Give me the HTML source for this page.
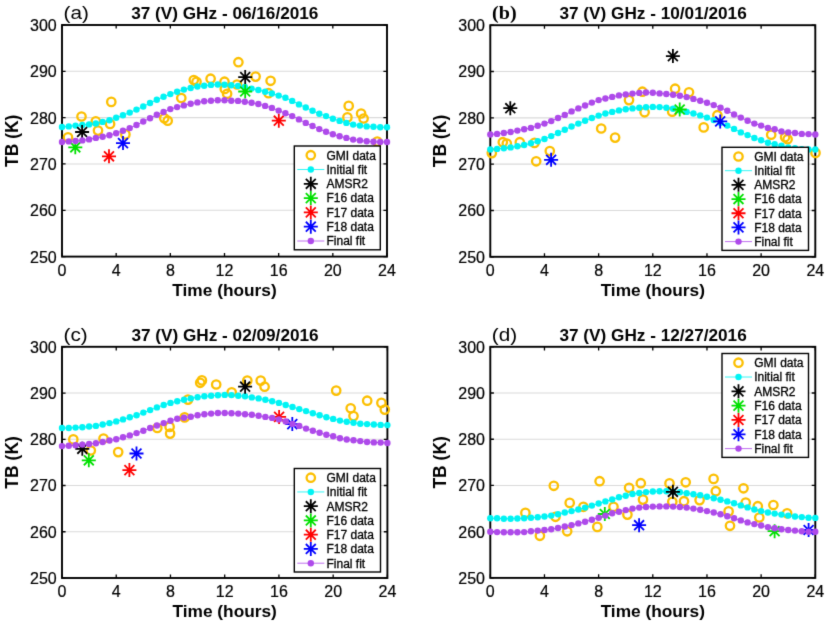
<!DOCTYPE html>
<html><head><meta charset="utf-8"><style>
html,body{margin:0;padding:0;background:#fff;width:827px;height:628px;overflow:hidden}
svg{display:block;will-change:transform}
text{-webkit-font-smoothing:antialiased}
text{font-family:"Liberation Sans", sans-serif;fill:#000}
.tl{font-size:16px;stroke:#000;stroke-width:0.2px}
.bl{font-size:17px;font-weight:bold}
.tt{font-size:17.2px}
.tm{font-size:17.3px}
.tb{font-size:17.5px}
.pl{font-size:18.5px}
.ps{font-family:"Liberation Serif", serif;font-size:19px;font-weight:bold}
.lg{font-size:12px;stroke:#000;stroke-width:0.3px}
</style></head><body>
<svg width="827" height="628" viewBox="0 0 827 628">
<defs><filter id="bl" x="0" y="0" width="827" height="628" filterUnits="userSpaceOnUse" color-interpolation-filters="sRGB"><feConvolveMatrix order="3" kernelMatrix="0.01134 0.08382 0.01134 0.08382 0.61935 0.08382 0.01134 0.08382 0.01134" edgeMode="duplicate"/></filter></defs>
<g filter="url(#bl)"><rect width="827" height="628" fill="#fff"/>
<line x1="62" y1="210.28" x2="387" y2="210.28" stroke="#DADADA" stroke-width="1.1"/>
<line x1="62" y1="163.96" x2="387" y2="163.96" stroke="#DADADA" stroke-width="1.1"/>
<line x1="62" y1="117.64" x2="387" y2="117.64" stroke="#DADADA" stroke-width="1.1"/>
<line x1="62" y1="71.32" x2="387" y2="71.32" stroke="#DADADA" stroke-width="1.1"/>
<path d="M62 256.6V253M62 25V28.6M116.17 256.6V253M116.17 25V28.6M170.33 256.6V253M170.33 25V28.6M224.5 256.6V253M224.5 25V28.6M278.67 256.6V253M278.67 25V28.6M332.83 256.6V253M332.83 25V28.6M387 256.6V253M387 25V28.6M62 256.6H65.6M387 256.6H383.4M62 210.28H65.6M387 210.28H383.4M62 163.96H65.6M387 163.96H383.4M62 117.64H65.6M387 117.64H383.4M62 71.32H65.6M387 71.32H383.4M62 25H65.6M387 25H383.4" stroke="#000" stroke-width="1.3" fill="none"/>
<rect x="62" y="25" width="325" height="231.6" fill="none" stroke="#000" stroke-width="1.9"/>
<circle cx="68" cy="137.4" r="4.2" fill="none" stroke="#FCBF00" stroke-width="2.3"/>
<circle cx="81.5" cy="116.5" r="4.2" fill="none" stroke="#FCBF00" stroke-width="2.3"/>
<circle cx="95.8" cy="121.3" r="4.2" fill="none" stroke="#FCBF00" stroke-width="2.3"/>
<circle cx="98" cy="130.6" r="4.2" fill="none" stroke="#FCBF00" stroke-width="2.3"/>
<circle cx="110.1" cy="124" r="4.2" fill="none" stroke="#FCBF00" stroke-width="2.3"/>
<circle cx="111.3" cy="101.9" r="4.2" fill="none" stroke="#FCBF00" stroke-width="2.3"/>
<circle cx="125.4" cy="134.4" r="4.2" fill="none" stroke="#FCBF00" stroke-width="2.3"/>
<circle cx="164.3" cy="118.3" r="4.2" fill="none" stroke="#FCBF00" stroke-width="2.3"/>
<circle cx="167.7" cy="120.7" r="4.2" fill="none" stroke="#FCBF00" stroke-width="2.3"/>
<circle cx="181.3" cy="98" r="4.2" fill="none" stroke="#FCBF00" stroke-width="2.3"/>
<circle cx="193.8" cy="80" r="4.2" fill="none" stroke="#FCBF00" stroke-width="2.3"/>
<circle cx="196.5" cy="81.8" r="4.2" fill="none" stroke="#FCBF00" stroke-width="2.3"/>
<circle cx="210.6" cy="78.7" r="4.2" fill="none" stroke="#FCBF00" stroke-width="2.3"/>
<circle cx="224.5" cy="81.7" r="4.2" fill="none" stroke="#FCBF00" stroke-width="2.3"/>
<circle cx="224.8" cy="89" r="4.2" fill="none" stroke="#FCBF00" stroke-width="2.3"/>
<circle cx="227.1" cy="93.8" r="4.2" fill="none" stroke="#FCBF00" stroke-width="2.3"/>
<circle cx="238.4" cy="62.2" r="4.2" fill="none" stroke="#FCBF00" stroke-width="2.3"/>
<circle cx="237" cy="84.5" r="4.2" fill="none" stroke="#FCBF00" stroke-width="2.3"/>
<circle cx="255.6" cy="76.6" r="4.2" fill="none" stroke="#FCBF00" stroke-width="2.3"/>
<circle cx="270.6" cy="80.8" r="4.2" fill="none" stroke="#FCBF00" stroke-width="2.3"/>
<circle cx="268.5" cy="93.2" r="4.2" fill="none" stroke="#FCBF00" stroke-width="2.3"/>
<circle cx="348.7" cy="105.9" r="4.2" fill="none" stroke="#FCBF00" stroke-width="2.3"/>
<circle cx="347.4" cy="117.4" r="4.2" fill="none" stroke="#FCBF00" stroke-width="2.3"/>
<circle cx="361.1" cy="113.5" r="4.2" fill="none" stroke="#FCBF00" stroke-width="2.3"/>
<circle cx="363.6" cy="118.5" r="4.2" fill="none" stroke="#FCBF00" stroke-width="2.3"/>
<circle cx="377.3" cy="141.6" r="4.2" fill="none" stroke="#FCBF00" stroke-width="2.3"/>
<polyline points="62,127 68.77,126.4 75.54,125.6 82.31,125 89.08,124.4 95.85,123.5 102.62,121.9 109.4,120.2 116.17,117.8 122.94,115.3 129.71,112.6 136.48,109.6 143.25,106.5 150.02,103 156.79,99.7 163.56,96.8 170.33,94.1 177.1,91.7 183.88,89.6 190.65,88 197.42,86.5 204.19,85.7 210.96,84.9 217.73,84.5 224.5,84.7 231.27,85.3 238.04,85.9 244.81,86.9 251.58,88.6 258.35,90 265.12,91.7 271.9,93.5 278.67,95.6 285.44,97.8 292.21,100.9 298.98,104.4 305.75,107.5 312.52,110.8 319.29,113.7 326.06,116.1 332.83,118.8 339.6,120.9 346.38,122.9 353.15,124.6 359.92,125.6 366.69,126.4 373.46,126.8 380.23,127.2 387,127.2" fill="none" stroke="#00F4F4" stroke-width="1"/>
<circle cx="62" cy="127" r="3.2" fill="#00F4F4"/>
<circle cx="68.77" cy="126.4" r="3.2" fill="#00F4F4"/>
<circle cx="75.54" cy="125.6" r="3.2" fill="#00F4F4"/>
<circle cx="82.31" cy="125" r="3.2" fill="#00F4F4"/>
<circle cx="89.08" cy="124.4" r="3.2" fill="#00F4F4"/>
<circle cx="95.85" cy="123.5" r="3.2" fill="#00F4F4"/>
<circle cx="102.62" cy="121.9" r="3.2" fill="#00F4F4"/>
<circle cx="109.4" cy="120.2" r="3.2" fill="#00F4F4"/>
<circle cx="116.17" cy="117.8" r="3.2" fill="#00F4F4"/>
<circle cx="122.94" cy="115.3" r="3.2" fill="#00F4F4"/>
<circle cx="129.71" cy="112.6" r="3.2" fill="#00F4F4"/>
<circle cx="136.48" cy="109.6" r="3.2" fill="#00F4F4"/>
<circle cx="143.25" cy="106.5" r="3.2" fill="#00F4F4"/>
<circle cx="150.02" cy="103" r="3.2" fill="#00F4F4"/>
<circle cx="156.79" cy="99.7" r="3.2" fill="#00F4F4"/>
<circle cx="163.56" cy="96.8" r="3.2" fill="#00F4F4"/>
<circle cx="170.33" cy="94.1" r="3.2" fill="#00F4F4"/>
<circle cx="177.1" cy="91.7" r="3.2" fill="#00F4F4"/>
<circle cx="183.88" cy="89.6" r="3.2" fill="#00F4F4"/>
<circle cx="190.65" cy="88" r="3.2" fill="#00F4F4"/>
<circle cx="197.42" cy="86.5" r="3.2" fill="#00F4F4"/>
<circle cx="204.19" cy="85.7" r="3.2" fill="#00F4F4"/>
<circle cx="210.96" cy="84.9" r="3.2" fill="#00F4F4"/>
<circle cx="217.73" cy="84.5" r="3.2" fill="#00F4F4"/>
<circle cx="224.5" cy="84.7" r="3.2" fill="#00F4F4"/>
<circle cx="231.27" cy="85.3" r="3.2" fill="#00F4F4"/>
<circle cx="238.04" cy="85.9" r="3.2" fill="#00F4F4"/>
<circle cx="244.81" cy="86.9" r="3.2" fill="#00F4F4"/>
<circle cx="251.58" cy="88.6" r="3.2" fill="#00F4F4"/>
<circle cx="258.35" cy="90" r="3.2" fill="#00F4F4"/>
<circle cx="265.12" cy="91.7" r="3.2" fill="#00F4F4"/>
<circle cx="271.9" cy="93.5" r="3.2" fill="#00F4F4"/>
<circle cx="278.67" cy="95.6" r="3.2" fill="#00F4F4"/>
<circle cx="285.44" cy="97.8" r="3.2" fill="#00F4F4"/>
<circle cx="292.21" cy="100.9" r="3.2" fill="#00F4F4"/>
<circle cx="298.98" cy="104.4" r="3.2" fill="#00F4F4"/>
<circle cx="305.75" cy="107.5" r="3.2" fill="#00F4F4"/>
<circle cx="312.52" cy="110.8" r="3.2" fill="#00F4F4"/>
<circle cx="319.29" cy="113.7" r="3.2" fill="#00F4F4"/>
<circle cx="326.06" cy="116.1" r="3.2" fill="#00F4F4"/>
<circle cx="332.83" cy="118.8" r="3.2" fill="#00F4F4"/>
<circle cx="339.6" cy="120.9" r="3.2" fill="#00F4F4"/>
<circle cx="346.38" cy="122.9" r="3.2" fill="#00F4F4"/>
<circle cx="353.15" cy="124.6" r="3.2" fill="#00F4F4"/>
<circle cx="359.92" cy="125.6" r="3.2" fill="#00F4F4"/>
<circle cx="366.69" cy="126.4" r="3.2" fill="#00F4F4"/>
<circle cx="373.46" cy="126.8" r="3.2" fill="#00F4F4"/>
<circle cx="380.23" cy="127.2" r="3.2" fill="#00F4F4"/>
<circle cx="387" cy="127.2" r="3.2" fill="#00F4F4"/>
<path d="M75.1 132H89.1M82.1 125V139M77.15 127.05L87.05 136.95M77.15 136.95L87.05 127.05" stroke="#000000" stroke-width="1.8" fill="none"/>
<path d="M238.2 77.1H252.2M245.2 70.1V84.1M240.25 72.15L250.15 82.05M240.25 82.05L250.15 72.15" stroke="#000000" stroke-width="1.8" fill="none"/>
<path d="M68.3 147.3H82.3M75.3 140.3V154.3M70.35 142.35L80.25 152.25M70.35 152.25L80.25 142.35" stroke="#00E000" stroke-width="1.8" fill="none"/>
<path d="M238.2 91.5H252.2M245.2 84.5V98.5M240.25 86.55L250.15 96.45M240.25 96.45L250.15 86.55" stroke="#00E000" stroke-width="1.8" fill="none"/>
<path d="M102 156.3H116M109 149.3V163.3M104.05 151.35L113.95 161.25M104.05 161.25L113.95 151.35" stroke="#FF0000" stroke-width="1.8" fill="none"/>
<path d="M271.8 120.7H285.8M278.8 113.7V127.7M273.85 115.75L283.75 125.65M273.85 125.65L283.75 115.75" stroke="#FF0000" stroke-width="1.8" fill="none"/>
<path d="M116 143.1H130M123 136.1V150.1M118.05 138.15L127.95 148.05M118.05 148.05L127.95 138.15" stroke="#0000FF" stroke-width="1.8" fill="none"/>
<polyline points="62,142 68.77,141.4 75.54,141 82.31,140.4 89.08,139.4 95.85,137.9 102.62,136.7 109.4,135.2 116.17,133.2 122.94,130.7 129.71,128.1 136.48,125 143.25,121.5 150.02,118.2 156.79,114.7 163.56,112 170.33,109.1 177.1,107.1 183.88,105.4 190.65,103.8 197.42,102.4 204.19,101.3 210.96,100.7 217.73,100.3 224.5,100.3 231.27,100.7 238.04,100.9 244.81,101.7 251.58,102.8 258.35,104 265.12,105.9 271.9,107.9 278.67,110.6 285.44,113.3 292.21,116.1 298.98,119.4 305.75,122.9 312.52,126 319.29,129.1 326.06,131.8 332.83,134.2 339.6,136.3 346.38,137.9 353.15,139.6 359.92,140.4 366.69,141.2 373.46,141.8 380.23,142 387,142" fill="none" stroke="#AE4AEA" stroke-width="1"/>
<circle cx="62" cy="142" r="3.2" fill="#AE4AEA"/>
<circle cx="68.77" cy="141.4" r="3.2" fill="#AE4AEA"/>
<circle cx="75.54" cy="141" r="3.2" fill="#AE4AEA"/>
<circle cx="82.31" cy="140.4" r="3.2" fill="#AE4AEA"/>
<circle cx="89.08" cy="139.4" r="3.2" fill="#AE4AEA"/>
<circle cx="95.85" cy="137.9" r="3.2" fill="#AE4AEA"/>
<circle cx="102.62" cy="136.7" r="3.2" fill="#AE4AEA"/>
<circle cx="109.4" cy="135.2" r="3.2" fill="#AE4AEA"/>
<circle cx="116.17" cy="133.2" r="3.2" fill="#AE4AEA"/>
<circle cx="122.94" cy="130.7" r="3.2" fill="#AE4AEA"/>
<circle cx="129.71" cy="128.1" r="3.2" fill="#AE4AEA"/>
<circle cx="136.48" cy="125" r="3.2" fill="#AE4AEA"/>
<circle cx="143.25" cy="121.5" r="3.2" fill="#AE4AEA"/>
<circle cx="150.02" cy="118.2" r="3.2" fill="#AE4AEA"/>
<circle cx="156.79" cy="114.7" r="3.2" fill="#AE4AEA"/>
<circle cx="163.56" cy="112" r="3.2" fill="#AE4AEA"/>
<circle cx="170.33" cy="109.1" r="3.2" fill="#AE4AEA"/>
<circle cx="177.1" cy="107.1" r="3.2" fill="#AE4AEA"/>
<circle cx="183.88" cy="105.4" r="3.2" fill="#AE4AEA"/>
<circle cx="190.65" cy="103.8" r="3.2" fill="#AE4AEA"/>
<circle cx="197.42" cy="102.4" r="3.2" fill="#AE4AEA"/>
<circle cx="204.19" cy="101.3" r="3.2" fill="#AE4AEA"/>
<circle cx="210.96" cy="100.7" r="3.2" fill="#AE4AEA"/>
<circle cx="217.73" cy="100.3" r="3.2" fill="#AE4AEA"/>
<circle cx="224.5" cy="100.3" r="3.2" fill="#AE4AEA"/>
<circle cx="231.27" cy="100.7" r="3.2" fill="#AE4AEA"/>
<circle cx="238.04" cy="100.9" r="3.2" fill="#AE4AEA"/>
<circle cx="244.81" cy="101.7" r="3.2" fill="#AE4AEA"/>
<circle cx="251.58" cy="102.8" r="3.2" fill="#AE4AEA"/>
<circle cx="258.35" cy="104" r="3.2" fill="#AE4AEA"/>
<circle cx="265.12" cy="105.9" r="3.2" fill="#AE4AEA"/>
<circle cx="271.9" cy="107.9" r="3.2" fill="#AE4AEA"/>
<circle cx="278.67" cy="110.6" r="3.2" fill="#AE4AEA"/>
<circle cx="285.44" cy="113.3" r="3.2" fill="#AE4AEA"/>
<circle cx="292.21" cy="116.1" r="3.2" fill="#AE4AEA"/>
<circle cx="298.98" cy="119.4" r="3.2" fill="#AE4AEA"/>
<circle cx="305.75" cy="122.9" r="3.2" fill="#AE4AEA"/>
<circle cx="312.52" cy="126" r="3.2" fill="#AE4AEA"/>
<circle cx="319.29" cy="129.1" r="3.2" fill="#AE4AEA"/>
<circle cx="326.06" cy="131.8" r="3.2" fill="#AE4AEA"/>
<circle cx="332.83" cy="134.2" r="3.2" fill="#AE4AEA"/>
<circle cx="339.6" cy="136.3" r="3.2" fill="#AE4AEA"/>
<circle cx="346.38" cy="137.9" r="3.2" fill="#AE4AEA"/>
<circle cx="353.15" cy="139.6" r="3.2" fill="#AE4AEA"/>
<circle cx="359.92" cy="140.4" r="3.2" fill="#AE4AEA"/>
<circle cx="366.69" cy="141.2" r="3.2" fill="#AE4AEA"/>
<circle cx="373.46" cy="141.8" r="3.2" fill="#AE4AEA"/>
<circle cx="380.23" cy="142" r="3.2" fill="#AE4AEA"/>
<circle cx="387" cy="142" r="3.2" fill="#AE4AEA"/>
<text x="62" y="275.6" text-anchor="middle" class="tl">0</text>
<text x="116.17" y="275.6" text-anchor="middle" class="tl">4</text>
<text x="170.33" y="275.6" text-anchor="middle" class="tl">8</text>
<text x="224.5" y="275.6" text-anchor="middle" class="tl">12</text>
<text x="278.67" y="275.6" text-anchor="middle" class="tl">16</text>
<text x="332.83" y="275.6" text-anchor="middle" class="tl">20</text>
<text x="387" y="275.6" text-anchor="middle" class="tl">24</text>
<text x="56.7" y="262.5" text-anchor="end" class="tl">250</text>
<text x="56.7" y="216.18" text-anchor="end" class="tl">260</text>
<text x="56.7" y="169.86" text-anchor="end" class="tl">270</text>
<text x="56.7" y="123.54" text-anchor="end" class="tl">280</text>
<text x="56.7" y="77.22" text-anchor="end" class="tl">290</text>
<text x="56.7" y="30.9" text-anchor="end" class="tl">300</text>
<text x="224.5" y="295.5" text-anchor="middle" class="bl tm">Time (hours)</text>
<text transform="translate(18 140.8) rotate(-90)" text-anchor="middle" class="bl tb">TB (K)</text>
<text x="224.8" y="18.7" text-anchor="middle" class="bl tt">37 (V) GHz - 06/16/2016</text>
<text transform="translate(63.5 19) scale(1.12 1)" class="pl">(a)</text>
<rect x="294.3" y="146" width="86" height="103.8" fill="#fff" stroke="#000" stroke-width="1.4"/>
<circle cx="310.8" cy="155.2" r="4.2" fill="none" stroke="#FCBF00" stroke-width="2.3"/>
<text x="326.5" y="159.5" class="lg">GMI data</text>
<line x1="297.3" y1="169.5" x2="324.3" y2="169.5" stroke="#00F4F4" stroke-width="0.8"/>
<circle cx="310.8" cy="169.5" r="3.2" fill="#00F4F4"/>
<text x="326.5" y="173.8" class="lg">Initial fit</text>
<path d="M303.8 183.8H317.8M310.8 176.8V190.8M305.85 178.85L315.75 188.75M305.85 188.75L315.75 178.85" stroke="#000000" stroke-width="1.8" fill="none"/>
<text x="326.5" y="188.1" class="lg">AMSR2</text>
<path d="M303.8 198.1H317.8M310.8 191.1V205.1M305.85 193.15L315.75 203.05M305.85 203.05L315.75 193.15" stroke="#00E000" stroke-width="1.8" fill="none"/>
<text x="326.5" y="202.4" class="lg">F16 data</text>
<path d="M303.8 212.4H317.8M310.8 205.4V219.4M305.85 207.45L315.75 217.35M305.85 217.35L315.75 207.45" stroke="#FF0000" stroke-width="1.8" fill="none"/>
<text x="326.5" y="216.7" class="lg">F17 data</text>
<path d="M303.8 226.7H317.8M310.8 219.7V233.7M305.85 221.75L315.75 231.65M305.85 231.65L315.75 221.75" stroke="#0000FF" stroke-width="1.8" fill="none"/>
<text x="326.5" y="231" class="lg">F18 data</text>
<line x1="297.3" y1="241" x2="324.3" y2="241" stroke="#AE4AEA" stroke-width="0.8"/>
<circle cx="310.8" cy="241" r="3.2" fill="#AE4AEA"/>
<text x="326.5" y="245.3" class="lg">Final fit</text>
<line x1="490.3" y1="210.48" x2="815.3" y2="210.48" stroke="#DADADA" stroke-width="1.1"/>
<line x1="490.3" y1="164.16" x2="815.3" y2="164.16" stroke="#DADADA" stroke-width="1.1"/>
<line x1="490.3" y1="117.84" x2="815.3" y2="117.84" stroke="#DADADA" stroke-width="1.1"/>
<line x1="490.3" y1="71.52" x2="815.3" y2="71.52" stroke="#DADADA" stroke-width="1.1"/>
<path d="M490.3 256.8V253.2M490.3 25.2V28.8M544.47 256.8V253.2M544.47 25.2V28.8M598.63 256.8V253.2M598.63 25.2V28.8M652.8 256.8V253.2M652.8 25.2V28.8M706.97 256.8V253.2M706.97 25.2V28.8M761.13 256.8V253.2M761.13 25.2V28.8M815.3 256.8V253.2M815.3 25.2V28.8M490.3 256.8H493.9M815.3 256.8H811.7M490.3 210.48H493.9M815.3 210.48H811.7M490.3 164.16H493.9M815.3 164.16H811.7M490.3 117.84H493.9M815.3 117.84H811.7M490.3 71.52H493.9M815.3 71.52H811.7M490.3 25.2H493.9M815.3 25.2H811.7" stroke="#000" stroke-width="1.3" fill="none"/>
<rect x="490.3" y="25.2" width="325" height="231.6" fill="none" stroke="#000" stroke-width="1.9"/>
<circle cx="491.8" cy="153.1" r="4.2" fill="none" stroke="#FCBF00" stroke-width="2.3"/>
<circle cx="502.8" cy="142.2" r="4.2" fill="none" stroke="#FCBF00" stroke-width="2.3"/>
<circle cx="506.8" cy="143.6" r="4.2" fill="none" stroke="#FCBF00" stroke-width="2.3"/>
<circle cx="519.8" cy="142.2" r="4.2" fill="none" stroke="#FCBF00" stroke-width="2.3"/>
<circle cx="534.5" cy="142.9" r="4.2" fill="none" stroke="#FCBF00" stroke-width="2.3"/>
<circle cx="536.2" cy="161.3" r="4.2" fill="none" stroke="#FCBF00" stroke-width="2.3"/>
<circle cx="549.8" cy="151.1" r="4.2" fill="none" stroke="#FCBF00" stroke-width="2.3"/>
<circle cx="601.2" cy="128.5" r="4.2" fill="none" stroke="#FCBF00" stroke-width="2.3"/>
<circle cx="615.1" cy="137.6" r="4.2" fill="none" stroke="#FCBF00" stroke-width="2.3"/>
<circle cx="629" cy="100.1" r="4.2" fill="none" stroke="#FCBF00" stroke-width="2.3"/>
<circle cx="642.4" cy="91.7" r="4.2" fill="none" stroke="#FCBF00" stroke-width="2.3"/>
<circle cx="644.6" cy="112.3" r="4.2" fill="none" stroke="#FCBF00" stroke-width="2.3"/>
<circle cx="675.1" cy="88.7" r="4.2" fill="none" stroke="#FCBF00" stroke-width="2.3"/>
<circle cx="689" cy="92.3" r="4.2" fill="none" stroke="#FCBF00" stroke-width="2.3"/>
<circle cx="672.2" cy="111.7" r="4.2" fill="none" stroke="#FCBF00" stroke-width="2.3"/>
<circle cx="717.4" cy="115.2" r="4.2" fill="none" stroke="#FCBF00" stroke-width="2.3"/>
<circle cx="703.7" cy="127.4" r="4.2" fill="none" stroke="#FCBF00" stroke-width="2.3"/>
<circle cx="771.2" cy="134.7" r="4.2" fill="none" stroke="#FCBF00" stroke-width="2.3"/>
<circle cx="785.1" cy="137.2" r="4.2" fill="none" stroke="#FCBF00" stroke-width="2.3"/>
<circle cx="787.6" cy="139.2" r="4.2" fill="none" stroke="#FCBF00" stroke-width="2.3"/>
<circle cx="815.5" cy="152.9" r="4.2" fill="none" stroke="#FCBF00" stroke-width="2.3"/>
<polyline points="490.3,149.5 497.07,148.9 503.84,148.2 510.61,147.4 517.38,146.2 524.15,145 530.92,143.3 537.7,141.3 544.47,139 551.24,136.1 558.01,133 564.78,129.7 571.55,126.5 578.32,123.6 585.09,120.7 591.86,118 598.63,115.6 605.4,113.5 612.17,111.9 618.95,110.4 625.72,109.2 632.49,108.4 639.26,107.7 646.03,107.2 652.8,106.9 659.57,107.1 666.34,107.7 673.11,108.8 679.88,110.4 686.65,111.9 693.42,113.5 700.2,115.4 706.97,117.6 713.74,120.1 720.51,122.8 727.28,125.6 734.05,128.9 740.82,132.4 747.59,135.1 754.36,138 761.13,140.2 767.9,142.7 774.67,144.3 781.45,145.8 788.22,147.4 794.99,148.2 801.76,149.1 808.53,149.5 815.3,149.5" fill="none" stroke="#00F4F4" stroke-width="1"/>
<circle cx="490.3" cy="149.5" r="3.2" fill="#00F4F4"/>
<circle cx="497.07" cy="148.9" r="3.2" fill="#00F4F4"/>
<circle cx="503.84" cy="148.2" r="3.2" fill="#00F4F4"/>
<circle cx="510.61" cy="147.4" r="3.2" fill="#00F4F4"/>
<circle cx="517.38" cy="146.2" r="3.2" fill="#00F4F4"/>
<circle cx="524.15" cy="145" r="3.2" fill="#00F4F4"/>
<circle cx="530.92" cy="143.3" r="3.2" fill="#00F4F4"/>
<circle cx="537.7" cy="141.3" r="3.2" fill="#00F4F4"/>
<circle cx="544.47" cy="139" r="3.2" fill="#00F4F4"/>
<circle cx="551.24" cy="136.1" r="3.2" fill="#00F4F4"/>
<circle cx="558.01" cy="133" r="3.2" fill="#00F4F4"/>
<circle cx="564.78" cy="129.7" r="3.2" fill="#00F4F4"/>
<circle cx="571.55" cy="126.5" r="3.2" fill="#00F4F4"/>
<circle cx="578.32" cy="123.6" r="3.2" fill="#00F4F4"/>
<circle cx="585.09" cy="120.7" r="3.2" fill="#00F4F4"/>
<circle cx="591.86" cy="118" r="3.2" fill="#00F4F4"/>
<circle cx="598.63" cy="115.6" r="3.2" fill="#00F4F4"/>
<circle cx="605.4" cy="113.5" r="3.2" fill="#00F4F4"/>
<circle cx="612.17" cy="111.9" r="3.2" fill="#00F4F4"/>
<circle cx="618.95" cy="110.4" r="3.2" fill="#00F4F4"/>
<circle cx="625.72" cy="109.2" r="3.2" fill="#00F4F4"/>
<circle cx="632.49" cy="108.4" r="3.2" fill="#00F4F4"/>
<circle cx="639.26" cy="107.7" r="3.2" fill="#00F4F4"/>
<circle cx="646.03" cy="107.2" r="3.2" fill="#00F4F4"/>
<circle cx="652.8" cy="106.9" r="3.2" fill="#00F4F4"/>
<circle cx="659.57" cy="107.1" r="3.2" fill="#00F4F4"/>
<circle cx="666.34" cy="107.7" r="3.2" fill="#00F4F4"/>
<circle cx="673.11" cy="108.8" r="3.2" fill="#00F4F4"/>
<circle cx="679.88" cy="110.4" r="3.2" fill="#00F4F4"/>
<circle cx="686.65" cy="111.9" r="3.2" fill="#00F4F4"/>
<circle cx="693.42" cy="113.5" r="3.2" fill="#00F4F4"/>
<circle cx="700.2" cy="115.4" r="3.2" fill="#00F4F4"/>
<circle cx="706.97" cy="117.6" r="3.2" fill="#00F4F4"/>
<circle cx="713.74" cy="120.1" r="3.2" fill="#00F4F4"/>
<circle cx="720.51" cy="122.8" r="3.2" fill="#00F4F4"/>
<circle cx="727.28" cy="125.6" r="3.2" fill="#00F4F4"/>
<circle cx="734.05" cy="128.9" r="3.2" fill="#00F4F4"/>
<circle cx="740.82" cy="132.4" r="3.2" fill="#00F4F4"/>
<circle cx="747.59" cy="135.1" r="3.2" fill="#00F4F4"/>
<circle cx="754.36" cy="138" r="3.2" fill="#00F4F4"/>
<circle cx="761.13" cy="140.2" r="3.2" fill="#00F4F4"/>
<circle cx="767.9" cy="142.7" r="3.2" fill="#00F4F4"/>
<circle cx="774.67" cy="144.3" r="3.2" fill="#00F4F4"/>
<circle cx="781.45" cy="145.8" r="3.2" fill="#00F4F4"/>
<circle cx="788.22" cy="147.4" r="3.2" fill="#00F4F4"/>
<circle cx="794.99" cy="148.2" r="3.2" fill="#00F4F4"/>
<circle cx="801.76" cy="149.1" r="3.2" fill="#00F4F4"/>
<circle cx="808.53" cy="149.5" r="3.2" fill="#00F4F4"/>
<circle cx="815.3" cy="149.5" r="3.2" fill="#00F4F4"/>
<path d="M503.3 108.2H517.3M510.3 101.2V115.2M505.35 103.25L515.25 113.15M505.35 113.15L515.25 103.25" stroke="#000000" stroke-width="1.8" fill="none"/>
<path d="M665.9 56.1H679.9M672.9 49.1V63.1M667.95 51.15L677.85 61.05M667.95 61.05L677.85 51.15" stroke="#000000" stroke-width="1.8" fill="none"/>
<path d="M672.7 109.5H686.7M679.7 102.5V116.5M674.75 104.55L684.65 114.45M674.75 114.45L684.65 104.55" stroke="#00E000" stroke-width="1.8" fill="none"/>
<path d="M544.1 159.8H558.1M551.1 152.8V166.8M546.15 154.85L556.05 164.75M546.15 164.75L556.05 154.85" stroke="#0000FF" stroke-width="1.8" fill="none"/>
<path d="M713.2 121.4H727.2M720.2 114.4V128.4M715.25 116.45L725.15 126.35M715.25 126.35L725.15 116.45" stroke="#0000FF" stroke-width="1.8" fill="none"/>
<polyline points="490.3,134.5 497.07,133.9 503.84,133 510.61,132 517.38,130.6 524.15,129.3 530.92,127.9 537.7,125.8 544.47,123.6 551.24,121.1 558.01,118 564.78,114.9 571.55,111.4 578.32,108.4 585.09,105.5 591.86,102.6 598.63,100.1 605.4,98.5 612.17,96.9 618.95,95.4 625.72,94.4 632.49,93.6 639.26,92.9 646.03,92.5 652.8,92.7 659.57,93.4 666.34,94 673.11,94.8 679.88,95.8 686.65,97.1 693.42,98.9 700.2,100.8 706.97,102.8 713.74,105.1 720.51,107.7 727.28,110.8 734.05,114.5 740.82,117.6 747.59,120.7 754.36,123.6 761.13,125.6 767.9,127.9 774.67,129.3 781.45,131.4 788.22,132.4 794.99,133 801.76,133.9 808.53,134.1 815.3,134.5" fill="none" stroke="#AE4AEA" stroke-width="1"/>
<circle cx="490.3" cy="134.5" r="3.2" fill="#AE4AEA"/>
<circle cx="497.07" cy="133.9" r="3.2" fill="#AE4AEA"/>
<circle cx="503.84" cy="133" r="3.2" fill="#AE4AEA"/>
<circle cx="510.61" cy="132" r="3.2" fill="#AE4AEA"/>
<circle cx="517.38" cy="130.6" r="3.2" fill="#AE4AEA"/>
<circle cx="524.15" cy="129.3" r="3.2" fill="#AE4AEA"/>
<circle cx="530.92" cy="127.9" r="3.2" fill="#AE4AEA"/>
<circle cx="537.7" cy="125.8" r="3.2" fill="#AE4AEA"/>
<circle cx="544.47" cy="123.6" r="3.2" fill="#AE4AEA"/>
<circle cx="551.24" cy="121.1" r="3.2" fill="#AE4AEA"/>
<circle cx="558.01" cy="118" r="3.2" fill="#AE4AEA"/>
<circle cx="564.78" cy="114.9" r="3.2" fill="#AE4AEA"/>
<circle cx="571.55" cy="111.4" r="3.2" fill="#AE4AEA"/>
<circle cx="578.32" cy="108.4" r="3.2" fill="#AE4AEA"/>
<circle cx="585.09" cy="105.5" r="3.2" fill="#AE4AEA"/>
<circle cx="591.86" cy="102.6" r="3.2" fill="#AE4AEA"/>
<circle cx="598.63" cy="100.1" r="3.2" fill="#AE4AEA"/>
<circle cx="605.4" cy="98.5" r="3.2" fill="#AE4AEA"/>
<circle cx="612.17" cy="96.9" r="3.2" fill="#AE4AEA"/>
<circle cx="618.95" cy="95.4" r="3.2" fill="#AE4AEA"/>
<circle cx="625.72" cy="94.4" r="3.2" fill="#AE4AEA"/>
<circle cx="632.49" cy="93.6" r="3.2" fill="#AE4AEA"/>
<circle cx="639.26" cy="92.9" r="3.2" fill="#AE4AEA"/>
<circle cx="646.03" cy="92.5" r="3.2" fill="#AE4AEA"/>
<circle cx="652.8" cy="92.7" r="3.2" fill="#AE4AEA"/>
<circle cx="659.57" cy="93.4" r="3.2" fill="#AE4AEA"/>
<circle cx="666.34" cy="94" r="3.2" fill="#AE4AEA"/>
<circle cx="673.11" cy="94.8" r="3.2" fill="#AE4AEA"/>
<circle cx="679.88" cy="95.8" r="3.2" fill="#AE4AEA"/>
<circle cx="686.65" cy="97.1" r="3.2" fill="#AE4AEA"/>
<circle cx="693.42" cy="98.9" r="3.2" fill="#AE4AEA"/>
<circle cx="700.2" cy="100.8" r="3.2" fill="#AE4AEA"/>
<circle cx="706.97" cy="102.8" r="3.2" fill="#AE4AEA"/>
<circle cx="713.74" cy="105.1" r="3.2" fill="#AE4AEA"/>
<circle cx="720.51" cy="107.7" r="3.2" fill="#AE4AEA"/>
<circle cx="727.28" cy="110.8" r="3.2" fill="#AE4AEA"/>
<circle cx="734.05" cy="114.5" r="3.2" fill="#AE4AEA"/>
<circle cx="740.82" cy="117.6" r="3.2" fill="#AE4AEA"/>
<circle cx="747.59" cy="120.7" r="3.2" fill="#AE4AEA"/>
<circle cx="754.36" cy="123.6" r="3.2" fill="#AE4AEA"/>
<circle cx="761.13" cy="125.6" r="3.2" fill="#AE4AEA"/>
<circle cx="767.9" cy="127.9" r="3.2" fill="#AE4AEA"/>
<circle cx="774.67" cy="129.3" r="3.2" fill="#AE4AEA"/>
<circle cx="781.45" cy="131.4" r="3.2" fill="#AE4AEA"/>
<circle cx="788.22" cy="132.4" r="3.2" fill="#AE4AEA"/>
<circle cx="794.99" cy="133" r="3.2" fill="#AE4AEA"/>
<circle cx="801.76" cy="133.9" r="3.2" fill="#AE4AEA"/>
<circle cx="808.53" cy="134.1" r="3.2" fill="#AE4AEA"/>
<circle cx="815.3" cy="134.5" r="3.2" fill="#AE4AEA"/>
<text x="490.3" y="275.8" text-anchor="middle" class="tl">0</text>
<text x="544.47" y="275.8" text-anchor="middle" class="tl">4</text>
<text x="598.63" y="275.8" text-anchor="middle" class="tl">8</text>
<text x="652.8" y="275.8" text-anchor="middle" class="tl">12</text>
<text x="706.97" y="275.8" text-anchor="middle" class="tl">16</text>
<text x="761.13" y="275.8" text-anchor="middle" class="tl">20</text>
<text x="815.3" y="275.8" text-anchor="middle" class="tl">24</text>
<text x="485" y="262.7" text-anchor="end" class="tl">250</text>
<text x="485" y="216.38" text-anchor="end" class="tl">260</text>
<text x="485" y="170.06" text-anchor="end" class="tl">270</text>
<text x="485" y="123.74" text-anchor="end" class="tl">280</text>
<text x="485" y="77.42" text-anchor="end" class="tl">290</text>
<text x="485" y="31.1" text-anchor="end" class="tl">300</text>
<text x="652.8" y="295.7" text-anchor="middle" class="bl tm">Time (hours)</text>
<text transform="translate(446.3 141) rotate(-90)" text-anchor="middle" class="bl tb">TB (K)</text>
<text x="653.1" y="18.9" text-anchor="middle" class="bl tt">37 (V) GHz - 10/01/2016</text>
<text transform="translate(492 19.2) scale(1.06 1)" class="ps">(b)</text>
<rect x="722" y="147.3" width="86.5" height="103.1" fill="#fff" stroke="#000" stroke-width="1.4"/>
<circle cx="738.5" cy="156.5" r="4.2" fill="none" stroke="#FCBF00" stroke-width="2.3"/>
<text x="754.2" y="160.8" class="lg">GMI data</text>
<line x1="725" y1="170.68" x2="752" y2="170.68" stroke="#00F4F4" stroke-width="0.8"/>
<circle cx="738.5" cy="170.68" r="3.2" fill="#00F4F4"/>
<text x="754.2" y="174.98" class="lg">Initial fit</text>
<path d="M731.5 184.87H745.5M738.5 177.87V191.87M733.55 179.92L743.45 189.82M733.55 189.82L743.45 179.92" stroke="#000000" stroke-width="1.8" fill="none"/>
<text x="754.2" y="189.17" class="lg">AMSR2</text>
<path d="M731.5 199.05H745.5M738.5 192.05V206.05M733.55 194.1L743.45 204M733.55 204L743.45 194.1" stroke="#00E000" stroke-width="1.8" fill="none"/>
<text x="754.2" y="203.35" class="lg">F16 data</text>
<path d="M731.5 213.23H745.5M738.5 206.23V220.23M733.55 208.28L743.45 218.18M733.55 218.18L743.45 208.28" stroke="#FF0000" stroke-width="1.8" fill="none"/>
<text x="754.2" y="217.53" class="lg">F17 data</text>
<path d="M731.5 227.42H745.5M738.5 220.42V234.42M733.55 222.47L743.45 232.37M733.55 232.37L743.45 222.47" stroke="#0000FF" stroke-width="1.8" fill="none"/>
<text x="754.2" y="231.72" class="lg">F18 data</text>
<line x1="725" y1="241.6" x2="752" y2="241.6" stroke="#AE4AEA" stroke-width="0.8"/>
<circle cx="738.5" cy="241.6" r="3.2" fill="#AE4AEA"/>
<text x="754.2" y="245.9" class="lg">Final fit</text>
<line x1="62" y1="531.76" x2="387.4" y2="531.76" stroke="#DADADA" stroke-width="1.1"/>
<line x1="62" y1="485.52" x2="387.4" y2="485.52" stroke="#DADADA" stroke-width="1.1"/>
<line x1="62" y1="439.28" x2="387.4" y2="439.28" stroke="#DADADA" stroke-width="1.1"/>
<line x1="62" y1="393.04" x2="387.4" y2="393.04" stroke="#DADADA" stroke-width="1.1"/>
<path d="M62 578V574.4M62 346.8V350.4M116.23 578V574.4M116.23 346.8V350.4M170.47 578V574.4M170.47 346.8V350.4M224.7 578V574.4M224.7 346.8V350.4M278.93 578V574.4M278.93 346.8V350.4M333.17 578V574.4M333.17 346.8V350.4M387.4 578V574.4M387.4 346.8V350.4M62 578H65.6M387.4 578H383.8M62 531.76H65.6M387.4 531.76H383.8M62 485.52H65.6M387.4 485.52H383.8M62 439.28H65.6M387.4 439.28H383.8M62 393.04H65.6M387.4 393.04H383.8M62 346.8H65.6M387.4 346.8H383.8" stroke="#000" stroke-width="1.3" fill="none"/>
<rect x="62" y="346.8" width="325.4" height="231.2" fill="none" stroke="#000" stroke-width="1.9"/>
<circle cx="73.3" cy="439.4" r="4.2" fill="none" stroke="#FCBF00" stroke-width="2.3"/>
<circle cx="103.5" cy="438.5" r="4.2" fill="none" stroke="#FCBF00" stroke-width="2.3"/>
<circle cx="90.8" cy="450.5" r="4.2" fill="none" stroke="#FCBF00" stroke-width="2.3"/>
<circle cx="118.2" cy="452.1" r="4.2" fill="none" stroke="#FCBF00" stroke-width="2.3"/>
<circle cx="200.2" cy="382.8" r="4.2" fill="none" stroke="#FCBF00" stroke-width="2.3"/>
<circle cx="201.9" cy="380.4" r="4.2" fill="none" stroke="#FCBF00" stroke-width="2.3"/>
<circle cx="216.2" cy="384.5" r="4.2" fill="none" stroke="#FCBF00" stroke-width="2.3"/>
<circle cx="188" cy="399.6" r="4.2" fill="none" stroke="#FCBF00" stroke-width="2.3"/>
<circle cx="184.6" cy="417.4" r="4.2" fill="none" stroke="#FCBF00" stroke-width="2.3"/>
<circle cx="157.3" cy="428" r="4.2" fill="none" stroke="#FCBF00" stroke-width="2.3"/>
<circle cx="169.6" cy="426.9" r="4.2" fill="none" stroke="#FCBF00" stroke-width="2.3"/>
<circle cx="170.1" cy="433.6" r="4.2" fill="none" stroke="#FCBF00" stroke-width="2.3"/>
<circle cx="231.7" cy="392.3" r="4.2" fill="none" stroke="#FCBF00" stroke-width="2.3"/>
<circle cx="247.3" cy="380.6" r="4.2" fill="none" stroke="#FCBF00" stroke-width="2.3"/>
<circle cx="260.7" cy="380.6" r="4.2" fill="none" stroke="#FCBF00" stroke-width="2.3"/>
<circle cx="264.6" cy="386.7" r="4.2" fill="none" stroke="#FCBF00" stroke-width="2.3"/>
<circle cx="336.2" cy="390.6" r="4.2" fill="none" stroke="#FCBF00" stroke-width="2.3"/>
<circle cx="350.7" cy="408.3" r="4.2" fill="none" stroke="#FCBF00" stroke-width="2.3"/>
<circle cx="353.5" cy="416.1" r="4.2" fill="none" stroke="#FCBF00" stroke-width="2.3"/>
<circle cx="367.2" cy="400.7" r="4.2" fill="none" stroke="#FCBF00" stroke-width="2.3"/>
<circle cx="381.4" cy="402.9" r="4.2" fill="none" stroke="#FCBF00" stroke-width="2.3"/>
<circle cx="384.8" cy="409.6" r="4.2" fill="none" stroke="#FCBF00" stroke-width="2.3"/>
<polyline points="62,428 68.78,428 75.56,427.6 82.34,427.2 89.12,426.5 95.9,425.9 102.67,424.5 109.45,423.1 116.23,421.4 123.01,419.4 129.79,417.3 136.57,415.2 143.35,412.6 150.13,410.1 156.91,407.4 163.69,405 170.47,402.9 177.25,401.3 184.02,399.8 190.8,398.4 197.58,397.2 204.36,396.3 211.14,395.7 217.92,395.2 224.7,394.9 231.48,395.1 238.26,395.7 245.04,396.3 251.82,397.4 258.6,398.4 265.38,399.8 272.15,401.3 278.93,402.9 285.71,405 292.49,407 299.27,409.1 306.05,411.1 312.83,413.2 319.61,415.2 326.39,417.3 333.17,418.9 339.95,420.6 346.72,421.8 353.5,422.8 360.28,423.7 367.06,424.1 373.84,424.5 380.62,424.9 387.4,425.1" fill="none" stroke="#00F4F4" stroke-width="1"/>
<circle cx="62" cy="428" r="3.2" fill="#00F4F4"/>
<circle cx="68.78" cy="428" r="3.2" fill="#00F4F4"/>
<circle cx="75.56" cy="427.6" r="3.2" fill="#00F4F4"/>
<circle cx="82.34" cy="427.2" r="3.2" fill="#00F4F4"/>
<circle cx="89.12" cy="426.5" r="3.2" fill="#00F4F4"/>
<circle cx="95.9" cy="425.9" r="3.2" fill="#00F4F4"/>
<circle cx="102.67" cy="424.5" r="3.2" fill="#00F4F4"/>
<circle cx="109.45" cy="423.1" r="3.2" fill="#00F4F4"/>
<circle cx="116.23" cy="421.4" r="3.2" fill="#00F4F4"/>
<circle cx="123.01" cy="419.4" r="3.2" fill="#00F4F4"/>
<circle cx="129.79" cy="417.3" r="3.2" fill="#00F4F4"/>
<circle cx="136.57" cy="415.2" r="3.2" fill="#00F4F4"/>
<circle cx="143.35" cy="412.6" r="3.2" fill="#00F4F4"/>
<circle cx="150.13" cy="410.1" r="3.2" fill="#00F4F4"/>
<circle cx="156.91" cy="407.4" r="3.2" fill="#00F4F4"/>
<circle cx="163.69" cy="405" r="3.2" fill="#00F4F4"/>
<circle cx="170.47" cy="402.9" r="3.2" fill="#00F4F4"/>
<circle cx="177.25" cy="401.3" r="3.2" fill="#00F4F4"/>
<circle cx="184.02" cy="399.8" r="3.2" fill="#00F4F4"/>
<circle cx="190.8" cy="398.4" r="3.2" fill="#00F4F4"/>
<circle cx="197.58" cy="397.2" r="3.2" fill="#00F4F4"/>
<circle cx="204.36" cy="396.3" r="3.2" fill="#00F4F4"/>
<circle cx="211.14" cy="395.7" r="3.2" fill="#00F4F4"/>
<circle cx="217.92" cy="395.2" r="3.2" fill="#00F4F4"/>
<circle cx="224.7" cy="394.9" r="3.2" fill="#00F4F4"/>
<circle cx="231.48" cy="395.1" r="3.2" fill="#00F4F4"/>
<circle cx="238.26" cy="395.7" r="3.2" fill="#00F4F4"/>
<circle cx="245.04" cy="396.3" r="3.2" fill="#00F4F4"/>
<circle cx="251.82" cy="397.4" r="3.2" fill="#00F4F4"/>
<circle cx="258.6" cy="398.4" r="3.2" fill="#00F4F4"/>
<circle cx="265.38" cy="399.8" r="3.2" fill="#00F4F4"/>
<circle cx="272.15" cy="401.3" r="3.2" fill="#00F4F4"/>
<circle cx="278.93" cy="402.9" r="3.2" fill="#00F4F4"/>
<circle cx="285.71" cy="405" r="3.2" fill="#00F4F4"/>
<circle cx="292.49" cy="407" r="3.2" fill="#00F4F4"/>
<circle cx="299.27" cy="409.1" r="3.2" fill="#00F4F4"/>
<circle cx="306.05" cy="411.1" r="3.2" fill="#00F4F4"/>
<circle cx="312.83" cy="413.2" r="3.2" fill="#00F4F4"/>
<circle cx="319.61" cy="415.2" r="3.2" fill="#00F4F4"/>
<circle cx="326.39" cy="417.3" r="3.2" fill="#00F4F4"/>
<circle cx="333.17" cy="418.9" r="3.2" fill="#00F4F4"/>
<circle cx="339.95" cy="420.6" r="3.2" fill="#00F4F4"/>
<circle cx="346.72" cy="421.8" r="3.2" fill="#00F4F4"/>
<circle cx="353.5" cy="422.8" r="3.2" fill="#00F4F4"/>
<circle cx="360.28" cy="423.7" r="3.2" fill="#00F4F4"/>
<circle cx="367.06" cy="424.1" r="3.2" fill="#00F4F4"/>
<circle cx="373.84" cy="424.5" r="3.2" fill="#00F4F4"/>
<circle cx="380.62" cy="424.9" r="3.2" fill="#00F4F4"/>
<circle cx="387.4" cy="425.1" r="3.2" fill="#00F4F4"/>
<path d="M75.3 448.8H89.3M82.3 441.8V455.8M77.35 443.85L87.25 453.75M77.35 453.75L87.25 443.85" stroke="#000000" stroke-width="1.8" fill="none"/>
<path d="M238.1 386.7H252.1M245.1 379.7V393.7M240.15 381.75L250.05 391.65M240.15 391.65L250.05 381.75" stroke="#000000" stroke-width="1.8" fill="none"/>
<path d="M81.8 460.3H95.8M88.8 453.3V467.3M83.85 455.35L93.75 465.25M83.85 465.25L93.75 455.35" stroke="#00E000" stroke-width="1.8" fill="none"/>
<path d="M122.4 470.1H136.4M129.4 463.1V477.1M124.45 465.15L134.35 475.05M124.45 475.05L134.35 465.15" stroke="#FF0000" stroke-width="1.8" fill="none"/>
<path d="M272.1 416.9H286.1M279.1 409.9V423.9M274.15 411.95L284.05 421.85M274.15 421.85L284.05 411.95" stroke="#FF0000" stroke-width="1.8" fill="none"/>
<path d="M129.5 453.5H143.5M136.5 446.5V460.5M131.55 448.55L141.45 458.45M131.55 458.45L141.45 448.55" stroke="#0000FF" stroke-width="1.8" fill="none"/>
<path d="M285.3 424.1H299.3M292.3 417.1V431.1M287.35 419.15L297.25 429.05M287.35 429.05L297.25 419.15" stroke="#0000FF" stroke-width="1.8" fill="none"/>
<polyline points="62,446.1 68.78,445.7 75.56,445.3 82.34,444.6 89.12,444 95.9,443.2 102.67,442 109.45,440.5 116.23,439.3 123.01,437.2 129.79,435.4 136.57,433.1 143.35,430.7 150.13,428 156.91,425.5 163.69,423.1 170.47,420.8 177.25,418.7 184.02,417.7 190.8,416.7 197.58,415.2 204.36,414.2 211.14,413.6 217.92,413 224.7,413 231.48,413.2 238.26,413.6 245.04,414.2 251.82,414.8 258.6,415.7 265.38,416.9 272.15,417.9 278.93,419.4 285.71,421.4 292.49,423.9 299.27,425.9 306.05,428.6 312.83,430.7 319.61,432.7 326.39,434.8 333.17,436.2 339.95,438.3 346.72,439.5 353.5,440.3 360.28,441.1 367.06,442 373.84,442.4 380.62,442.6 387.4,443" fill="none" stroke="#AE4AEA" stroke-width="1"/>
<circle cx="62" cy="446.1" r="3.2" fill="#AE4AEA"/>
<circle cx="68.78" cy="445.7" r="3.2" fill="#AE4AEA"/>
<circle cx="75.56" cy="445.3" r="3.2" fill="#AE4AEA"/>
<circle cx="82.34" cy="444.6" r="3.2" fill="#AE4AEA"/>
<circle cx="89.12" cy="444" r="3.2" fill="#AE4AEA"/>
<circle cx="95.9" cy="443.2" r="3.2" fill="#AE4AEA"/>
<circle cx="102.67" cy="442" r="3.2" fill="#AE4AEA"/>
<circle cx="109.45" cy="440.5" r="3.2" fill="#AE4AEA"/>
<circle cx="116.23" cy="439.3" r="3.2" fill="#AE4AEA"/>
<circle cx="123.01" cy="437.2" r="3.2" fill="#AE4AEA"/>
<circle cx="129.79" cy="435.4" r="3.2" fill="#AE4AEA"/>
<circle cx="136.57" cy="433.1" r="3.2" fill="#AE4AEA"/>
<circle cx="143.35" cy="430.7" r="3.2" fill="#AE4AEA"/>
<circle cx="150.13" cy="428" r="3.2" fill="#AE4AEA"/>
<circle cx="156.91" cy="425.5" r="3.2" fill="#AE4AEA"/>
<circle cx="163.69" cy="423.1" r="3.2" fill="#AE4AEA"/>
<circle cx="170.47" cy="420.8" r="3.2" fill="#AE4AEA"/>
<circle cx="177.25" cy="418.7" r="3.2" fill="#AE4AEA"/>
<circle cx="184.02" cy="417.7" r="3.2" fill="#AE4AEA"/>
<circle cx="190.8" cy="416.7" r="3.2" fill="#AE4AEA"/>
<circle cx="197.58" cy="415.2" r="3.2" fill="#AE4AEA"/>
<circle cx="204.36" cy="414.2" r="3.2" fill="#AE4AEA"/>
<circle cx="211.14" cy="413.6" r="3.2" fill="#AE4AEA"/>
<circle cx="217.92" cy="413" r="3.2" fill="#AE4AEA"/>
<circle cx="224.7" cy="413" r="3.2" fill="#AE4AEA"/>
<circle cx="231.48" cy="413.2" r="3.2" fill="#AE4AEA"/>
<circle cx="238.26" cy="413.6" r="3.2" fill="#AE4AEA"/>
<circle cx="245.04" cy="414.2" r="3.2" fill="#AE4AEA"/>
<circle cx="251.82" cy="414.8" r="3.2" fill="#AE4AEA"/>
<circle cx="258.6" cy="415.7" r="3.2" fill="#AE4AEA"/>
<circle cx="265.38" cy="416.9" r="3.2" fill="#AE4AEA"/>
<circle cx="272.15" cy="417.9" r="3.2" fill="#AE4AEA"/>
<circle cx="278.93" cy="419.4" r="3.2" fill="#AE4AEA"/>
<circle cx="285.71" cy="421.4" r="3.2" fill="#AE4AEA"/>
<circle cx="292.49" cy="423.9" r="3.2" fill="#AE4AEA"/>
<circle cx="299.27" cy="425.9" r="3.2" fill="#AE4AEA"/>
<circle cx="306.05" cy="428.6" r="3.2" fill="#AE4AEA"/>
<circle cx="312.83" cy="430.7" r="3.2" fill="#AE4AEA"/>
<circle cx="319.61" cy="432.7" r="3.2" fill="#AE4AEA"/>
<circle cx="326.39" cy="434.8" r="3.2" fill="#AE4AEA"/>
<circle cx="333.17" cy="436.2" r="3.2" fill="#AE4AEA"/>
<circle cx="339.95" cy="438.3" r="3.2" fill="#AE4AEA"/>
<circle cx="346.72" cy="439.5" r="3.2" fill="#AE4AEA"/>
<circle cx="353.5" cy="440.3" r="3.2" fill="#AE4AEA"/>
<circle cx="360.28" cy="441.1" r="3.2" fill="#AE4AEA"/>
<circle cx="367.06" cy="442" r="3.2" fill="#AE4AEA"/>
<circle cx="373.84" cy="442.4" r="3.2" fill="#AE4AEA"/>
<circle cx="380.62" cy="442.6" r="3.2" fill="#AE4AEA"/>
<circle cx="387.4" cy="443" r="3.2" fill="#AE4AEA"/>
<text x="62" y="597" text-anchor="middle" class="tl">0</text>
<text x="116.23" y="597" text-anchor="middle" class="tl">4</text>
<text x="170.47" y="597" text-anchor="middle" class="tl">8</text>
<text x="224.7" y="597" text-anchor="middle" class="tl">12</text>
<text x="278.93" y="597" text-anchor="middle" class="tl">16</text>
<text x="333.17" y="597" text-anchor="middle" class="tl">20</text>
<text x="387.4" y="597" text-anchor="middle" class="tl">24</text>
<text x="56.7" y="583.9" text-anchor="end" class="tl">250</text>
<text x="56.7" y="537.66" text-anchor="end" class="tl">260</text>
<text x="56.7" y="491.42" text-anchor="end" class="tl">270</text>
<text x="56.7" y="445.18" text-anchor="end" class="tl">280</text>
<text x="56.7" y="398.94" text-anchor="end" class="tl">290</text>
<text x="56.7" y="352.7" text-anchor="end" class="tl">300</text>
<text x="224.7" y="616.9" text-anchor="middle" class="bl tm">Time (hours)</text>
<text transform="translate(18 462.4) rotate(-90)" text-anchor="middle" class="bl tb">TB (K)</text>
<text x="225" y="340.5" text-anchor="middle" class="bl tt">37 (V) GHz - 02/09/2016</text>
<text transform="translate(63.5 340.8) scale(1.12 1)" class="pl">(c)</text>
<rect x="294.3" y="468.5" width="86.2" height="103.5" fill="#fff" stroke="#000" stroke-width="1.4"/>
<circle cx="310.8" cy="477.7" r="4.2" fill="none" stroke="#FCBF00" stroke-width="2.3"/>
<text x="326.5" y="482" class="lg">GMI data</text>
<line x1="297.3" y1="491.95" x2="324.3" y2="491.95" stroke="#00F4F4" stroke-width="0.8"/>
<circle cx="310.8" cy="491.95" r="3.2" fill="#00F4F4"/>
<text x="326.5" y="496.25" class="lg">Initial fit</text>
<path d="M303.8 506.2H317.8M310.8 499.2V513.2M305.85 501.25L315.75 511.15M305.85 511.15L315.75 501.25" stroke="#000000" stroke-width="1.8" fill="none"/>
<text x="326.5" y="510.5" class="lg">AMSR2</text>
<path d="M303.8 520.45H317.8M310.8 513.45V527.45M305.85 515.5L315.75 525.4M305.85 525.4L315.75 515.5" stroke="#00E000" stroke-width="1.8" fill="none"/>
<text x="326.5" y="524.75" class="lg">F16 data</text>
<path d="M303.8 534.7H317.8M310.8 527.7V541.7M305.85 529.75L315.75 539.65M305.85 539.65L315.75 529.75" stroke="#FF0000" stroke-width="1.8" fill="none"/>
<text x="326.5" y="539" class="lg">F17 data</text>
<path d="M303.8 548.95H317.8M310.8 541.95V555.95M305.85 544L315.75 553.9M305.85 553.9L315.75 544" stroke="#0000FF" stroke-width="1.8" fill="none"/>
<text x="326.5" y="553.25" class="lg">F18 data</text>
<line x1="297.3" y1="563.2" x2="324.3" y2="563.2" stroke="#AE4AEA" stroke-width="0.8"/>
<circle cx="310.8" cy="563.2" r="3.2" fill="#AE4AEA"/>
<text x="326.5" y="567.5" class="lg">Final fit</text>
<line x1="490.3" y1="531.68" x2="815.3" y2="531.68" stroke="#DADADA" stroke-width="1.1"/>
<line x1="490.3" y1="485.46" x2="815.3" y2="485.46" stroke="#DADADA" stroke-width="1.1"/>
<line x1="490.3" y1="439.24" x2="815.3" y2="439.24" stroke="#DADADA" stroke-width="1.1"/>
<line x1="490.3" y1="393.02" x2="815.3" y2="393.02" stroke="#DADADA" stroke-width="1.1"/>
<path d="M490.3 577.9V574.3M490.3 346.8V350.4M544.47 577.9V574.3M544.47 346.8V350.4M598.63 577.9V574.3M598.63 346.8V350.4M652.8 577.9V574.3M652.8 346.8V350.4M706.97 577.9V574.3M706.97 346.8V350.4M761.13 577.9V574.3M761.13 346.8V350.4M815.3 577.9V574.3M815.3 346.8V350.4M490.3 577.9H493.9M815.3 577.9H811.7M490.3 531.68H493.9M815.3 531.68H811.7M490.3 485.46H493.9M815.3 485.46H811.7M490.3 439.24H493.9M815.3 439.24H811.7M490.3 393.02H493.9M815.3 393.02H811.7M490.3 346.8H493.9M815.3 346.8H811.7" stroke="#000" stroke-width="1.3" fill="none"/>
<rect x="490.3" y="346.8" width="325" height="231.1" fill="none" stroke="#000" stroke-width="1.9"/>
<circle cx="553.8" cy="485.8" r="4.2" fill="none" stroke="#FCBF00" stroke-width="2.3"/>
<circle cx="569.7" cy="502.9" r="4.2" fill="none" stroke="#FCBF00" stroke-width="2.3"/>
<circle cx="525.4" cy="512.9" r="4.2" fill="none" stroke="#FCBF00" stroke-width="2.3"/>
<circle cx="555.5" cy="516.8" r="4.2" fill="none" stroke="#FCBF00" stroke-width="2.3"/>
<circle cx="539.9" cy="535.8" r="4.2" fill="none" stroke="#FCBF00" stroke-width="2.3"/>
<circle cx="567.2" cy="531.3" r="4.2" fill="none" stroke="#FCBF00" stroke-width="2.3"/>
<circle cx="599.6" cy="481.2" r="4.2" fill="none" stroke="#FCBF00" stroke-width="2.3"/>
<circle cx="629.1" cy="487.8" r="4.2" fill="none" stroke="#FCBF00" stroke-width="2.3"/>
<circle cx="640.8" cy="483.2" r="4.2" fill="none" stroke="#FCBF00" stroke-width="2.3"/>
<circle cx="643" cy="499.6" r="4.2" fill="none" stroke="#FCBF00" stroke-width="2.3"/>
<circle cx="583.4" cy="506.8" r="4.2" fill="none" stroke="#FCBF00" stroke-width="2.3"/>
<circle cx="613.5" cy="506.8" r="4.2" fill="none" stroke="#FCBF00" stroke-width="2.3"/>
<circle cx="627.4" cy="514.6" r="4.2" fill="none" stroke="#FCBF00" stroke-width="2.3"/>
<circle cx="597.3" cy="526.9" r="4.2" fill="none" stroke="#FCBF00" stroke-width="2.3"/>
<circle cx="669.5" cy="483.4" r="4.2" fill="none" stroke="#FCBF00" stroke-width="2.3"/>
<circle cx="685.7" cy="482.3" r="4.2" fill="none" stroke="#FCBF00" stroke-width="2.3"/>
<circle cx="713.6" cy="478.9" r="4.2" fill="none" stroke="#FCBF00" stroke-width="2.3"/>
<circle cx="715.8" cy="491.2" r="4.2" fill="none" stroke="#FCBF00" stroke-width="2.3"/>
<circle cx="672.3" cy="501.8" r="4.2" fill="none" stroke="#FCBF00" stroke-width="2.3"/>
<circle cx="684" cy="501.2" r="4.2" fill="none" stroke="#FCBF00" stroke-width="2.3"/>
<circle cx="699.6" cy="500.1" r="4.2" fill="none" stroke="#FCBF00" stroke-width="2.3"/>
<circle cx="728.6" cy="511.4" r="4.2" fill="none" stroke="#FCBF00" stroke-width="2.3"/>
<circle cx="730" cy="525.8" r="4.2" fill="none" stroke="#FCBF00" stroke-width="2.3"/>
<circle cx="743.5" cy="488.3" r="4.2" fill="none" stroke="#FCBF00" stroke-width="2.3"/>
<circle cx="745.7" cy="502.6" r="4.2" fill="none" stroke="#FCBF00" stroke-width="2.3"/>
<circle cx="757.8" cy="506.2" r="4.2" fill="none" stroke="#FCBF00" stroke-width="2.3"/>
<circle cx="759.3" cy="517.5" r="4.2" fill="none" stroke="#FCBF00" stroke-width="2.3"/>
<circle cx="773.4" cy="505" r="4.2" fill="none" stroke="#FCBF00" stroke-width="2.3"/>
<circle cx="787.1" cy="513.3" r="4.2" fill="none" stroke="#FCBF00" stroke-width="2.3"/>
<polyline points="490.3,518.3 497.07,518.3 503.84,518.7 510.61,518.7 517.38,518.5 524.15,518.3 530.92,517.7 537.7,517.3 544.47,516.5 551.24,515.6 558.01,514.2 564.78,512.5 571.55,511.1 578.32,509.5 585.09,507.6 591.86,505.6 598.63,503.5 605.4,501.4 612.17,499.4 618.95,497.3 625.72,495.7 632.49,494 639.26,493 646.03,492.1 652.8,491.5 659.57,491.2 666.34,491.2 673.11,491.6 679.88,492.2 686.65,493.2 693.42,494.3 700.2,495.3 706.97,496.7 713.74,498.2 720.51,499.8 727.28,501.4 734.05,503.3 740.82,505.4 747.59,507.4 754.36,509.5 761.13,511.1 767.9,512.5 774.67,513.6 781.45,514.6 788.22,515.6 794.99,516.5 801.76,517.1 808.53,517.7 815.3,517.9" fill="none" stroke="#00F4F4" stroke-width="1"/>
<circle cx="490.3" cy="518.3" r="3.2" fill="#00F4F4"/>
<circle cx="497.07" cy="518.3" r="3.2" fill="#00F4F4"/>
<circle cx="503.84" cy="518.7" r="3.2" fill="#00F4F4"/>
<circle cx="510.61" cy="518.7" r="3.2" fill="#00F4F4"/>
<circle cx="517.38" cy="518.5" r="3.2" fill="#00F4F4"/>
<circle cx="524.15" cy="518.3" r="3.2" fill="#00F4F4"/>
<circle cx="530.92" cy="517.7" r="3.2" fill="#00F4F4"/>
<circle cx="537.7" cy="517.3" r="3.2" fill="#00F4F4"/>
<circle cx="544.47" cy="516.5" r="3.2" fill="#00F4F4"/>
<circle cx="551.24" cy="515.6" r="3.2" fill="#00F4F4"/>
<circle cx="558.01" cy="514.2" r="3.2" fill="#00F4F4"/>
<circle cx="564.78" cy="512.5" r="3.2" fill="#00F4F4"/>
<circle cx="571.55" cy="511.1" r="3.2" fill="#00F4F4"/>
<circle cx="578.32" cy="509.5" r="3.2" fill="#00F4F4"/>
<circle cx="585.09" cy="507.6" r="3.2" fill="#00F4F4"/>
<circle cx="591.86" cy="505.6" r="3.2" fill="#00F4F4"/>
<circle cx="598.63" cy="503.5" r="3.2" fill="#00F4F4"/>
<circle cx="605.4" cy="501.4" r="3.2" fill="#00F4F4"/>
<circle cx="612.17" cy="499.4" r="3.2" fill="#00F4F4"/>
<circle cx="618.95" cy="497.3" r="3.2" fill="#00F4F4"/>
<circle cx="625.72" cy="495.7" r="3.2" fill="#00F4F4"/>
<circle cx="632.49" cy="494" r="3.2" fill="#00F4F4"/>
<circle cx="639.26" cy="493" r="3.2" fill="#00F4F4"/>
<circle cx="646.03" cy="492.1" r="3.2" fill="#00F4F4"/>
<circle cx="652.8" cy="491.5" r="3.2" fill="#00F4F4"/>
<circle cx="659.57" cy="491.2" r="3.2" fill="#00F4F4"/>
<circle cx="666.34" cy="491.2" r="3.2" fill="#00F4F4"/>
<circle cx="673.11" cy="491.6" r="3.2" fill="#00F4F4"/>
<circle cx="679.88" cy="492.2" r="3.2" fill="#00F4F4"/>
<circle cx="686.65" cy="493.2" r="3.2" fill="#00F4F4"/>
<circle cx="693.42" cy="494.3" r="3.2" fill="#00F4F4"/>
<circle cx="700.2" cy="495.3" r="3.2" fill="#00F4F4"/>
<circle cx="706.97" cy="496.7" r="3.2" fill="#00F4F4"/>
<circle cx="713.74" cy="498.2" r="3.2" fill="#00F4F4"/>
<circle cx="720.51" cy="499.8" r="3.2" fill="#00F4F4"/>
<circle cx="727.28" cy="501.4" r="3.2" fill="#00F4F4"/>
<circle cx="734.05" cy="503.3" r="3.2" fill="#00F4F4"/>
<circle cx="740.82" cy="505.4" r="3.2" fill="#00F4F4"/>
<circle cx="747.59" cy="507.4" r="3.2" fill="#00F4F4"/>
<circle cx="754.36" cy="509.5" r="3.2" fill="#00F4F4"/>
<circle cx="761.13" cy="511.1" r="3.2" fill="#00F4F4"/>
<circle cx="767.9" cy="512.5" r="3.2" fill="#00F4F4"/>
<circle cx="774.67" cy="513.6" r="3.2" fill="#00F4F4"/>
<circle cx="781.45" cy="514.6" r="3.2" fill="#00F4F4"/>
<circle cx="788.22" cy="515.6" r="3.2" fill="#00F4F4"/>
<circle cx="794.99" cy="516.5" r="3.2" fill="#00F4F4"/>
<circle cx="801.76" cy="517.1" r="3.2" fill="#00F4F4"/>
<circle cx="808.53" cy="517.7" r="3.2" fill="#00F4F4"/>
<circle cx="815.3" cy="517.9" r="3.2" fill="#00F4F4"/>
<path d="M665.9 491.8H679.9M672.9 484.8V498.8M667.95 486.85L677.85 496.75M667.95 496.75L677.85 486.85" stroke="#000000" stroke-width="1.8" fill="none"/>
<path d="M597.8 514H611.8M604.8 507V521M599.85 509.05L609.75 518.95M599.85 518.95L609.75 509.05" stroke="#00E000" stroke-width="1.8" fill="none"/>
<path d="M767.6 531.2H781.6M774.6 524.2V538.2M769.65 526.25L779.55 536.15M769.65 536.15L779.55 526.25" stroke="#00E000" stroke-width="1.8" fill="none"/>
<path d="M632.1 525.2H646.1M639.1 518.2V532.2M634.15 520.25L644.05 530.15M634.15 530.15L644.05 520.25" stroke="#0000FF" stroke-width="1.8" fill="none"/>
<path d="M801.6 530H815.6M808.6 523V537M803.65 525.05L813.55 534.95M803.65 534.95L813.55 525.05" stroke="#0000FF" stroke-width="1.8" fill="none"/>
<polyline points="490.3,531.7 497.07,532.1 503.84,532.3 510.61,532.3 517.38,532.3 524.15,532.1 530.92,531.3 537.7,530.6 544.47,530 551.24,529.2 558.01,528 564.78,526.5 571.55,525.1 578.32,523.4 585.09,521.8 591.86,519.7 598.63,517.7 605.4,515.6 612.17,513.2 618.95,511.7 625.72,510.1 632.49,508.6 639.26,507.6 646.03,507 652.8,506.6 659.57,506.4 666.34,506.4 673.11,506.6 679.88,507 686.65,507.6 693.42,508.6 700.2,509.7 706.97,511.1 713.74,512.5 720.51,514.2 727.28,516.2 734.05,518.3 740.82,520.4 747.59,522.4 754.36,524.1 761.13,525.5 767.9,527.1 774.67,528.2 781.45,529.2 788.22,530 794.99,530.6 801.76,531.3 808.53,531.7 815.3,531.7" fill="none" stroke="#AE4AEA" stroke-width="1"/>
<circle cx="490.3" cy="531.7" r="3.2" fill="#AE4AEA"/>
<circle cx="497.07" cy="532.1" r="3.2" fill="#AE4AEA"/>
<circle cx="503.84" cy="532.3" r="3.2" fill="#AE4AEA"/>
<circle cx="510.61" cy="532.3" r="3.2" fill="#AE4AEA"/>
<circle cx="517.38" cy="532.3" r="3.2" fill="#AE4AEA"/>
<circle cx="524.15" cy="532.1" r="3.2" fill="#AE4AEA"/>
<circle cx="530.92" cy="531.3" r="3.2" fill="#AE4AEA"/>
<circle cx="537.7" cy="530.6" r="3.2" fill="#AE4AEA"/>
<circle cx="544.47" cy="530" r="3.2" fill="#AE4AEA"/>
<circle cx="551.24" cy="529.2" r="3.2" fill="#AE4AEA"/>
<circle cx="558.01" cy="528" r="3.2" fill="#AE4AEA"/>
<circle cx="564.78" cy="526.5" r="3.2" fill="#AE4AEA"/>
<circle cx="571.55" cy="525.1" r="3.2" fill="#AE4AEA"/>
<circle cx="578.32" cy="523.4" r="3.2" fill="#AE4AEA"/>
<circle cx="585.09" cy="521.8" r="3.2" fill="#AE4AEA"/>
<circle cx="591.86" cy="519.7" r="3.2" fill="#AE4AEA"/>
<circle cx="598.63" cy="517.7" r="3.2" fill="#AE4AEA"/>
<circle cx="605.4" cy="515.6" r="3.2" fill="#AE4AEA"/>
<circle cx="612.17" cy="513.2" r="3.2" fill="#AE4AEA"/>
<circle cx="618.95" cy="511.7" r="3.2" fill="#AE4AEA"/>
<circle cx="625.72" cy="510.1" r="3.2" fill="#AE4AEA"/>
<circle cx="632.49" cy="508.6" r="3.2" fill="#AE4AEA"/>
<circle cx="639.26" cy="507.6" r="3.2" fill="#AE4AEA"/>
<circle cx="646.03" cy="507" r="3.2" fill="#AE4AEA"/>
<circle cx="652.8" cy="506.6" r="3.2" fill="#AE4AEA"/>
<circle cx="659.57" cy="506.4" r="3.2" fill="#AE4AEA"/>
<circle cx="666.34" cy="506.4" r="3.2" fill="#AE4AEA"/>
<circle cx="673.11" cy="506.6" r="3.2" fill="#AE4AEA"/>
<circle cx="679.88" cy="507" r="3.2" fill="#AE4AEA"/>
<circle cx="686.65" cy="507.6" r="3.2" fill="#AE4AEA"/>
<circle cx="693.42" cy="508.6" r="3.2" fill="#AE4AEA"/>
<circle cx="700.2" cy="509.7" r="3.2" fill="#AE4AEA"/>
<circle cx="706.97" cy="511.1" r="3.2" fill="#AE4AEA"/>
<circle cx="713.74" cy="512.5" r="3.2" fill="#AE4AEA"/>
<circle cx="720.51" cy="514.2" r="3.2" fill="#AE4AEA"/>
<circle cx="727.28" cy="516.2" r="3.2" fill="#AE4AEA"/>
<circle cx="734.05" cy="518.3" r="3.2" fill="#AE4AEA"/>
<circle cx="740.82" cy="520.4" r="3.2" fill="#AE4AEA"/>
<circle cx="747.59" cy="522.4" r="3.2" fill="#AE4AEA"/>
<circle cx="754.36" cy="524.1" r="3.2" fill="#AE4AEA"/>
<circle cx="761.13" cy="525.5" r="3.2" fill="#AE4AEA"/>
<circle cx="767.9" cy="527.1" r="3.2" fill="#AE4AEA"/>
<circle cx="774.67" cy="528.2" r="3.2" fill="#AE4AEA"/>
<circle cx="781.45" cy="529.2" r="3.2" fill="#AE4AEA"/>
<circle cx="788.22" cy="530" r="3.2" fill="#AE4AEA"/>
<circle cx="794.99" cy="530.6" r="3.2" fill="#AE4AEA"/>
<circle cx="801.76" cy="531.3" r="3.2" fill="#AE4AEA"/>
<circle cx="808.53" cy="531.7" r="3.2" fill="#AE4AEA"/>
<circle cx="815.3" cy="531.7" r="3.2" fill="#AE4AEA"/>
<text x="490.3" y="596.9" text-anchor="middle" class="tl">0</text>
<text x="544.47" y="596.9" text-anchor="middle" class="tl">4</text>
<text x="598.63" y="596.9" text-anchor="middle" class="tl">8</text>
<text x="652.8" y="596.9" text-anchor="middle" class="tl">12</text>
<text x="706.97" y="596.9" text-anchor="middle" class="tl">16</text>
<text x="761.13" y="596.9" text-anchor="middle" class="tl">20</text>
<text x="815.3" y="596.9" text-anchor="middle" class="tl">24</text>
<text x="485" y="583.8" text-anchor="end" class="tl">250</text>
<text x="485" y="537.58" text-anchor="end" class="tl">260</text>
<text x="485" y="491.36" text-anchor="end" class="tl">270</text>
<text x="485" y="445.14" text-anchor="end" class="tl">280</text>
<text x="485" y="398.92" text-anchor="end" class="tl">290</text>
<text x="485" y="352.7" text-anchor="end" class="tl">300</text>
<text x="652.8" y="616.8" text-anchor="middle" class="bl tm">Time (hours)</text>
<text transform="translate(446.3 462.35) rotate(-90)" text-anchor="middle" class="bl tb">TB (K)</text>
<text x="653.1" y="340.5" text-anchor="middle" class="bl tt">37 (V) GHz - 12/27/2016</text>
<text transform="translate(491.8 340.8) scale(1.12 1)" class="pl">(d)</text>
<rect x="722" y="353.5" width="86.5" height="103.9" fill="#fff" stroke="#000" stroke-width="1.4"/>
<circle cx="738.5" cy="362.7" r="4.2" fill="none" stroke="#FCBF00" stroke-width="2.3"/>
<text x="754.2" y="367" class="lg">GMI data</text>
<line x1="725" y1="377.02" x2="752" y2="377.02" stroke="#00F4F4" stroke-width="0.8"/>
<circle cx="738.5" cy="377.02" r="3.2" fill="#00F4F4"/>
<text x="754.2" y="381.32" class="lg">Initial fit</text>
<path d="M731.5 391.33H745.5M738.5 384.33V398.33M733.55 386.38L743.45 396.28M733.55 396.28L743.45 386.38" stroke="#000000" stroke-width="1.8" fill="none"/>
<text x="754.2" y="395.63" class="lg">AMSR2</text>
<path d="M731.5 405.65H745.5M738.5 398.65V412.65M733.55 400.7L743.45 410.6M733.55 410.6L743.45 400.7" stroke="#00E000" stroke-width="1.8" fill="none"/>
<text x="754.2" y="409.95" class="lg">F16 data</text>
<path d="M731.5 419.97H745.5M738.5 412.97V426.97M733.55 415.02L743.45 424.92M733.55 424.92L743.45 415.02" stroke="#FF0000" stroke-width="1.8" fill="none"/>
<text x="754.2" y="424.27" class="lg">F17 data</text>
<path d="M731.5 434.28H745.5M738.5 427.28V441.28M733.55 429.33L743.45 439.23M733.55 439.23L743.45 429.33" stroke="#0000FF" stroke-width="1.8" fill="none"/>
<text x="754.2" y="438.58" class="lg">F18 data</text>
<line x1="725" y1="448.6" x2="752" y2="448.6" stroke="#AE4AEA" stroke-width="0.8"/>
<circle cx="738.5" cy="448.6" r="3.2" fill="#AE4AEA"/>
<text x="754.2" y="452.9" class="lg">Final fit</text>
</g></svg>
</body></html>
